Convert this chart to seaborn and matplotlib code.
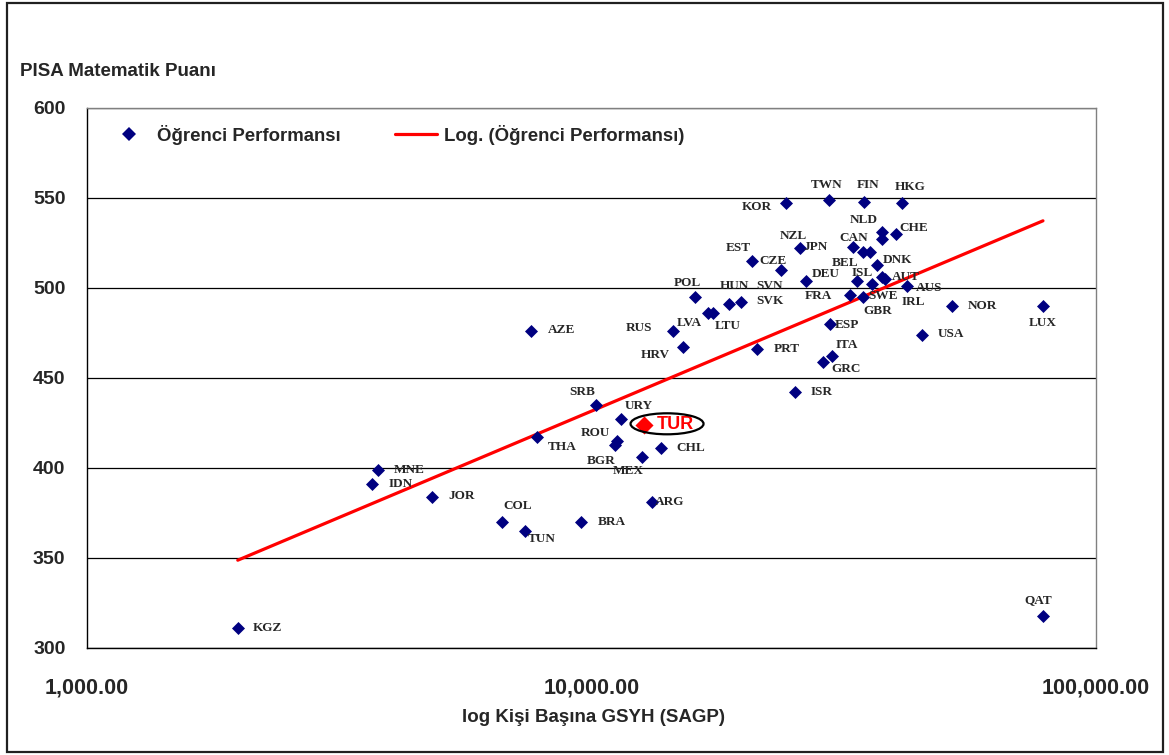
import numpy as np
import pandas as pd
import seaborn as sns
import matplotlib
matplotlib.use('Agg')
import matplotlib.pyplot as plt
from matplotlib.lines import Line2D
from matplotlib.patches import Ellipse, Rectangle
from matplotlib.ticker import FixedLocator, FuncFormatter, NullLocator

# PISA 2006 matematik puani ve kisi basina GSYH (SAGP)
countries = ['KOR', 'TWN', 'FIN', 'HKG', 'NLD', 'CHE', 'CAN', 'JPN', 'NZL', 'BEL',
             'AUS', 'EST', 'DNK', 'CZE', 'DEU', 'SVN', 'ISL', 'AUT', 'SWE', 'IRL',
             'FRA', 'GBR', 'POL', 'HUN', 'SVK', 'LVA', 'LTU', 'RUS', 'AZE', 'HRV',
             'ESP', 'PRT', 'ITA', 'GRC', 'ISR', 'NOR', 'USA', 'LUX', 'QAT', 'SRB',
             'URY', 'TUR', 'ROU', 'THA', 'CHL', 'BGR', 'MEX', 'MNE', 'IDN', 'JOR',
             'COL', 'ARG', 'BRA', 'TUN', 'KGZ']
gdp = [24300, 29600, 34700, 41300, 37700, 40100, 37700, 33000, 25900, 34500,
       35600, 20800, 36800, 23700, 33600, 26600, 37700, 38100, 36000, 42200,
       32600, 34500, 16050, 18700, 19800, 17000, 17400, 14500, 7590, 15200,
       29700, 21300, 30000, 28800, 25300, 51800, 45200, 78500, 78500, 10200,
       11440, 12710, 11230, 7800, 13730, 11130, 12590, 3770, 3670, 4830,
       6640, 13180, 9530, 7390, 1990]
score = [547, 549, 548, 547, 531, 530, 527, 523, 522, 520,
         520, 515, 513, 510, 504, 504, 506, 505, 502, 501,
         496, 495, 495, 491, 492, 486, 486, 476, 476, 467,
         480, 466, 462, 459, 442, 490, 474, 490, 318, 435,
         427, 424, 415, 417, 411, 413, 406, 399, 391, 384,
         370, 381, 370, 365, 311]

# label offsets from point (pixels, x right / y down)
label_offsets = {
    'KOR': (-29, 4), 'TWN': (-3, -15), 'FIN': (4, -17), 'HKG': (8, -16),
    'NLD': (-19, -12), 'CHE': (18, -6), 'CAN': (-29, -1), 'JPN': (-38, 0),
    'NZL': (-7, -12), 'BEL': (-18, 11), 'AUS': (59, 36), 'EST': (-14, -13),
    'DNK': (20, -5), 'CZE': (-8, -9), 'DEU': (-31, -7), 'SVN': (-36, 5),
    'ISL': (-20, -4), 'AUT': (21, -2), 'SWE': (11, 12), 'IRL': (6, 16),
    'FRA': (-32, 1), 'GBR': (15, 14), 'POL': (-8, -14), 'HUN': (6, -18),
    'SVK': (29, -1), 'LVA': (-18, 10), 'LTU': (15, 13), 'RUS': (-34, -3),
    'AZE': (30, -1), 'HRV': (-28, 8), 'ESP': (17, 1), 'PRT': (30, 0),
    'ITA': (15, -11), 'GRC': (23, 7), 'ISR': (27, 0), 'NOR': (31, 0),
    'USA': (29, -1), 'LUX': (0, 17), 'QAT': (-5, -15), 'SRB': (-14, -13),
    'URY': (18, -13), 'TUR': (31, 0), 'ROU': (-21, -8), 'THA': (25, 10),
    'CHL': (30, 0), 'BGR': (-14, 16), 'MEX': (-14, 14), 'MNE': (31, 0),
    'IDN': (29, 0), 'JOR': (30, -1), 'COL': (16, -16), 'ARG': (18, 0),
    'BRA': (31, 0), 'TUN': (17, 8), 'KGZ': (30, 0),
}

df = pd.DataFrame({'ulke': countries, 'gsyh': gdp, 'puan': score})

sns.set_style('white')
plt.rcParams['font.family'] = ['Liberation Sans', 'DejaVu Sans']

fig = plt.figure(figsize=(11.69, 7.55), dpi=100)
ax = fig.add_axes([87 / 1169, 1 - 648 / 755, (1096 - 87) / 1169, (648 - 108) / 755])

navy = '#000080'
other = df[df.ulke != 'TUR']
tur = df[df.ulke == 'TUR']
sns.scatterplot(data=other, x='gsyh', y='puan', marker='D', s=44, color=navy,
                linewidth=0, ax=ax, zorder=3)
sns.scatterplot(data=tur, x='gsyh', y='puan', marker='D', s=85, color='#ff0000',
                linewidth=0, ax=ax, zorder=4)

# logaritmik egilim cizgisi
a, b = np.polyfit(np.log(df.gsyh), df.puan, 1)
xs = np.geomspace(df.gsyh.min(), df.gsyh.max(), 200)
sns.lineplot(x=xs, y=a * np.log(xs) + b, color='#ff0000', linewidth=2.3, ax=ax, zorder=2)

ax.set_xscale('log')
ax.set_xlim(1000, 100000)
ax.set_ylim(300, 600)
ax.xaxis.set_major_locator(FixedLocator([1000, 10000, 100000]))
ax.xaxis.set_minor_locator(NullLocator())
ax.xaxis.set_major_formatter(FuncFormatter(lambda v, p: f'{v:,.2f}'))
ax.set_yticks(np.arange(300, 601, 50))
ax.yaxis.grid(True, color='black', linewidth=0.9)
ax.set_axisbelow(True)
ax.tick_params(axis='both', direction='out', length=5, width=1, color='black')
ax.tick_params(axis='x', pad=16, labelsize=15.5)
ax.tick_params(axis='y', pad=10.5, labelsize=14)
for t in ax.get_xticklabels() + ax.get_yticklabels():
    t.set_fontweight('bold')
for side in ['left', 'bottom']:
    ax.spines[side].set_color('black')
    ax.spines[side].set_linewidth(1)
for side in ['top', 'right']:
    ax.spines[side].set_color('#808080')
    ax.spines[side].set_linewidth(1)
ax.set_xlabel('')
ax.set_ylabel('')

for _, r in df.iterrows():
    dx, dy = label_offsets[r.ulke]
    if r.ulke == 'TUR':
        ax.annotate('TUR', (r.gsyh, r.puan), xytext=(dx, -dy), textcoords='offset pixels',
                    ha='center', va='center', fontsize=13, fontweight='bold', color='#ff0000',
                    zorder=5)
        continue
    ax.annotate(r.ulke, (r.gsyh, r.puan), xytext=(dx, -dy), textcoords='offset pixels',
                ha='center', va='center', fontsize=9.5, fontweight='bold',
                family=['Liberation Serif', 'DejaVu Serif'], zorder=5)

# TUR etrafindaki elips
px, py = ax.transData.transform((tur.gsyh.iloc[0], tur.puan.iloc[0]))
ell = Ellipse((px + 23, py + 1), 73, 21, transform=None, fill=False,
              edgecolor='black', linewidth=1.6, zorder=5)
fig.add_artist(ell)

fig.text(20 / 1169, 1 - 72 / 755, 'PISA Matematik Puanı', ha='left', va='center',
         fontsize=13.5, fontweight='bold')
fig.text(593 / 1169, 1 - 717 / 755, 'log Kişi Başına GSYH (SAGP)', ha='center',
         va='center', fontsize=13.5, fontweight='bold')

handles = [Line2D([], [], marker='D', color=navy, ls='none', ms=6.8, mew=0),
           Line2D([], [], color='#ff0000', lw=2.3)]
leg = ax.legend(handles, ['Öğrenci Performansı', 'Log. (Öğrenci Performansı)'],
                ncol=2, frameon=False, loc='center left',
                bbox_to_anchor=(108 / 1169, 1 - 135 / 755),
                bbox_transform=fig.transFigure, borderaxespad=0, borderpad=0,
                handlelength=2.26, handletextpad=0.38, columnspacing=2.9,
                prop={'size': 13.4, 'weight': 'bold'})

fig.add_artist(Rectangle((7 / 1169, 3 / 755), 1156 / 1169, 749 / 755,
                         transform=fig.transFigure, fill=False,
                         edgecolor='#202020', linewidth=1.6))

fig.savefig('out.png', dpi=100)
